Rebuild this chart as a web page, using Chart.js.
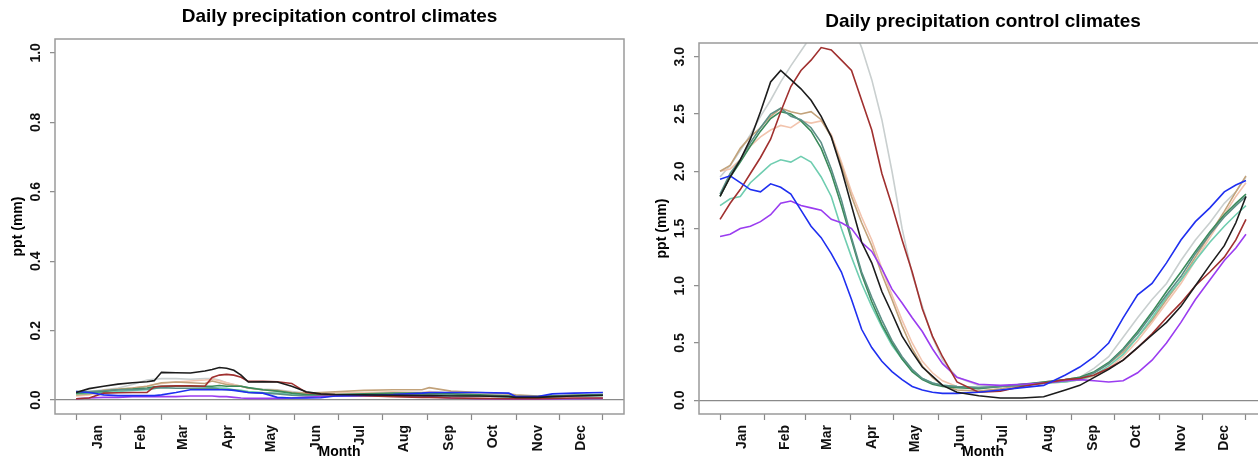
<!DOCTYPE html>
<html>
<head>
<meta charset="utf-8">
<title>Daily precipitation control climates</title>
<script src="https://cdn.jsdelivr.net/npm/chart.js@4.4.1/dist/chart.umd.min.js"></script>
<style>
  html, body { margin: 0; padding: 0; background: white; overflow: hidden; }
  body { width: 1258px; height: 459px; position: relative; }
  .panel { position: absolute; top: 0; }
  #leftPanel { left: 0; }
  #rightPanel { left: 630px; }
</style>
</head>
<body>
<div class="panel" id="leftPanel"><canvas id="chartLeft" width="640" height="459"></canvas></div>
<div class="panel" id="rightPanel"><canvas id="chartRight" width="660" height="459"></canvas></div>
<script>
'use strict';

const monthNames = ['Jan', 'Feb', 'Mar', 'Apr', 'May', 'Jun', 'Jul', 'Aug', 'Sep', 'Oct', 'Nov', 'Dec'];
const monthStarts = [1, 32, 60, 91, 121, 152, 182, 213, 244, 274, 305, 335, 365];
const monthMids = [16, 46, 75, 106, 136, 167, 197, 228, 259, 289, 320, 350];

const leftTicks = [0, 0.2, 0.4, 0.6, 0.8, 1.0];
const rightTicks = [0, 0.5, 1.0, 1.5, 2.0, 2.5, 3.0];

// day of year for the sampled values
const leftDays = [1, 10, 20, 30, 40, 50, 55, 60, 70, 80, 90, 95, 100, 105, 110, 115, 120, 130, 140, 150,
  160, 170, 180, 200, 220, 240, 245, 260, 280, 300, 305, 320, 330, 345, 365];
const rightDays = [1, 8, 15, 22, 29, 36, 43, 50, 57, 64, 71, 78, 85, 92, 99, 106, 113, 120, 127, 134,
  141, 148, 155, 165, 180, 195, 210, 225, 240, 250, 260, 270, 280, 290, 300, 310, 320, 330, 340, 350, 358, 365];

// left panel (mm/day)
const leftBlack = [.022, .033, .040, .046, .050, .053, .056, .080, .079, .078, .084, .088, .094, .092, .086, .072, .052, .053, .052, .040,
  .024, .018, .016, .015, .014, .013, .013, .012, .012, .010, .008, .008, .010, .012, .014];
const leftRed = [.004, .006, .020, .021, .022, .022, .038, .040, .041, .041, .040, .065, .072, .074, .072, .066, .054, .054, .053, .048,
  .022, .017, .015, .013, .010, .008, .008, .006, .005, .004, .004, .004, .005, .006, .006];
const leftGray = [.020, .025, .030, .035, .045, .058, .060, .062, .062, .060, .062, .062, .058, .050, .045, .040, .035, .032, .030, .025,
  .020, .018, .018, .020, .022, .022, .025, .020, .018, .015, .012, .010, .012, .014, .016];
const leftTan = [.015, .018, .028, .032, .035, .040, .045, .050, .052, .050, .048, .055, .050, .045, .042, .040, .035, .030, .028, .022,
  .020, .022, .024, .028, .030, .030, .036, .026, .022, .018, .015, .012, .012, .014, .015];
const leftSalmon = [.012, .015, .025, .030, .035, .040, .045, .048, .052, .055, .058, .060, .056, .050, .045, .040, .034, .030, .026, .022,
  .018, .018, .020, .022, .024, .022, .024, .020, .016, .012, .010, .010, .011, .012, .013];
const leftGreen = [.020, .022, .025, .030, .032, .035, .038, .040, .040, .040, .040, .040, .042, .040, .040, .040, .036, .030, .026, .020,
  .016, .015, .016, .018, .020, .020, .020, .018, .015, .012, .010, .010, .012, .014, .016];
const leftTeal = [.025, .025, .027, .030, .030, .032, .034, .036, .034, .034, .034, .035, .032, .030, .030, .026, .022, .020, .018, .014,
  .012, .012, .012, .014, .016, .016, .016, .014, .012, .010, .008, .008, .010, .012, .014];
const leftAqua = [.018, .020, .022, .025, .028, .030, .033, .038, .040, .040, .038, .036, .035, .034, .030, .028, .025, .022, .020, .016,
  .014, .012, .012, .013, .015, .015, .015, .014, .012, .010, .009, .009, .010, .012, .013];
const leftBlue = [.025, .022, .015, .013, .013, .013, .013, .015, .022, .030, .030, .030, .030, .030, .028, .025, .022, .020, .008, .006,
  .006, .007, .012, .014, .016, .020, .022, .022, .022, .020, .010, .010, .018, .020, .022];
const leftPurple = [.004, .006, .008, .008, .010, .010, .010, .010, .010, .012, .012, .012, .010, .010, .008, .006, .005, .005, .005, .006,
  .008, .010, .012, .012, .012, .012, .010, .006, .004, .003, .003, .003, .003, .004, .005];

// right panel (mm/day)
const rightBlack = [1.78, 1.95, 2.10, 2.28, 2.52, 2.78, 2.88, 2.80, 2.72, 2.62, 2.48, 2.30, 2.02, 1.70, 1.38, 1.20, 0.95, 0.76, 0.56, 0.42,
  0.29, 0.21, 0.13, 0.07, 0.04, 0.02, 0.02, 0.03, 0.09, 0.13, 0.20, 0.27, 0.35, 0.46, 0.57, 0.68, 0.82, 1.00, 1.18, 1.35, 1.55, 1.78];
const rightRed = [1.58, 1.72, 1.84, 1.98, 2.12, 2.28, 2.52, 2.74, 2.88, 2.97, 3.08, 3.06, 2.97, 2.88, 2.62, 2.36, 1.98, 1.70, 1.40, 1.12,
  0.80, 0.56, 0.38, 0.16, 0.07, 0.08, 0.12, 0.15, 0.18, 0.19, 0.22, 0.28, 0.35, 0.46, 0.58, 0.72, 0.85, 1.00, 1.12, 1.25, 1.40, 1.58];
const rightGray = [1.95, 2.05, 2.18, 2.32, 2.48, 2.62, 2.78, 2.92, 3.05, 3.18, 3.35, 3.45, 3.42, 3.30, 3.08, 2.80, 2.45, 2.00, 1.50, 1.10,
  0.82, 0.55, 0.35, 0.20, 0.13, 0.12, 0.13, 0.15, 0.17, 0.20, 0.28, 0.38, 0.55, 0.72, 0.88, 1.02, 1.22, 1.40, 1.55, 1.72, 1.82, 1.95];
const rightTan = [2.00, 2.05, 2.20, 2.30, 2.38, 2.48, 2.55, 2.52, 2.50, 2.52, 2.45, 2.30, 2.05, 1.78, 1.55, 1.35, 1.10, 0.88, 0.65, 0.45,
  0.30, 0.20, 0.13, 0.09, 0.08, 0.10, 0.13, 0.16, 0.18, 0.20, 0.24, 0.32, 0.42, 0.55, 0.70, 0.88, 1.05, 1.25, 1.45, 1.65, 1.82, 1.96];
const rightSalmon = [2.00, 2.02, 2.10, 2.22, 2.30, 2.36, 2.40, 2.38, 2.44, 2.42, 2.44, 2.32, 2.08, 1.82, 1.60, 1.40, 1.15, 0.92, 0.70, 0.50,
  0.34, 0.24, 0.17, 0.12, 0.10, 0.12, 0.14, 0.15, 0.16, 0.18, 0.21, 0.28, 0.38, 0.52, 0.68, 0.85, 1.02, 1.22, 1.42, 1.62, 1.78, 1.90];
const rightTeal = [1.80, 1.98, 2.10, 2.25, 2.38, 2.50, 2.55, 2.48, 2.45, 2.38, 2.25, 2.02, 1.75, 1.42, 1.12, 0.90, 0.70, 0.52, 0.38, 0.27,
  0.19, 0.15, 0.13, 0.12, 0.11, 0.12, 0.13, 0.15, 0.17, 0.19, 0.24, 0.32, 0.44, 0.58, 0.75, 0.92, 1.08, 1.28, 1.45, 1.60, 1.70, 1.78];
const rightGreen = [1.78, 1.95, 2.08, 2.22, 2.35, 2.46, 2.52, 2.50, 2.44, 2.35, 2.20, 1.98, 1.70, 1.40, 1.10, 0.86, 0.66, 0.50, 0.36, 0.25,
  0.18, 0.14, 0.12, 0.11, 0.10, 0.12, 0.14, 0.16, 0.18, 0.20, 0.25, 0.33, 0.45, 0.60, 0.77, 0.95, 1.12, 1.30, 1.47, 1.62, 1.72, 1.80];
const rightAqua = [1.70, 1.76, 1.78, 1.90, 1.98, 2.06, 2.10, 2.08, 2.13, 2.08, 1.95, 1.78, 1.50, 1.25, 1.02, 0.82, 0.64, 0.48, 0.36, 0.26,
  0.19, 0.15, 0.13, 0.12, 0.11, 0.12, 0.14, 0.15, 0.16, 0.18, 0.22, 0.30, 0.40, 0.55, 0.72, 0.90, 1.05, 1.22, 1.38, 1.52, 1.62, 1.70];
const rightBlue = [1.93, 1.96, 1.90, 1.84, 1.82, 1.89, 1.86, 1.80, 1.66, 1.52, 1.42, 1.28, 1.12, 0.88, 0.62, 0.46, 0.34, 0.25, 0.18, 0.12,
  0.09, 0.07, 0.06, 0.06, 0.07, 0.09, 0.11, 0.13, 0.22, 0.29, 0.38, 0.50, 0.72, 0.92, 1.02, 1.20, 1.40, 1.56, 1.68, 1.82, 1.88, 1.92];
const rightPurple = [1.43, 1.45, 1.50, 1.52, 1.56, 1.62, 1.72, 1.74, 1.70, 1.68, 1.66, 1.58, 1.55, 1.50, 1.38, 1.30, 1.15, 0.97, 0.85, 0.72,
  0.60, 0.45, 0.32, 0.20, 0.14, 0.13, 0.14, 0.15, 0.17, 0.18, 0.17, 0.16, 0.17, 0.24, 0.35, 0.50, 0.68, 0.88, 1.05, 1.22, 1.33, 1.45];

const colors = {
  black: '#1c1c1c', blue: '#1f2ff0', red: '#a0302f', purple: '#9a3cf0', teal: '#5b8f86',
  green: '#3a8a5a', aqua: '#6fcdb0', tan: '#c2a27a', salmon: '#f2c4ae', gray: '#c9cfcf'
};

const FONT = '"Liberation Sans", Arial, Helvetica, sans-serif';
Chart.defaults.font.family = FONT;
Chart.defaults.color = '#111';

function line(days, values, color) {
  return {
    data: values.map((v, i) => ({x: days[i], y: v})),
    borderColor: color,
    borderWidth: 1.6,
    pointRadius: 0,
    tension: 0,
    fill: false
  };
}

// R-style rotated tick labels on the y axis
const rotatedYLabels = {
  id: 'rotatedYLabels',
  afterDraw(chart, args, opts) {
    const scale = chart.scales.y;
    const ctx = chart.ctx;
    ctx.save();
    ctx.font = 'bold 14px ' + FONT;
    ctx.fillStyle = '#111';
    ctx.textAlign = 'center';
    ctx.textBaseline = 'middle';
    scale.ticks.forEach((tick) => {
      ctx.save();
      ctx.translate(opts.x, scale.getPixelForValue(tick.value));
      ctx.rotate(-Math.PI / 2);
      ctx.fillText(tick.value.toFixed(1), 0, 0);
      ctx.restore();
    });
    ctx.restore();
  }
};

const plotBox = {
  id: 'plotBox',
  afterDraw(chart) {
    const {ctx, chartArea: a} = chart;
    ctx.save();
    ctx.strokeStyle = '#9a9a9a';
    ctx.lineWidth = 1.5;
    ctx.strokeRect(a.left, a.top, a.right - a.left, a.bottom - a.top);
    ctx.restore();
  }
};

function makeChart(canvasId, p) {
  const xMin = 1 - 364 * 0.04;
  const xMax = 365 + 364 * 0.04;
  return new Chart(document.getElementById(canvasId), {
    type: 'line',
    data: {datasets: p.datasets},
    options: {
      responsive: false,
      animation: false,
      events: [],
      layout: {padding: {left: 0, right: p.padRight, top: 0, bottom: 0}},
      plugins: {
        legend: {display: false},
        tooltip: {enabled: false},
        title: {
          display: true,
          text: 'Daily precipitation control climates',
          fullSize: false,
          color: '#000',
          font: {size: 19, weight: 'bold'},
          padding: {top: p.titleTop, bottom: p.titleBottom}
        },
        rotatedYLabels: {x: p.yLabelX}
      },
      scales: {
        x: {
          type: 'linear',
          position: 'bottom',
          min: xMin,
          max: xMax,
          afterBuildTicks: (s) => { s.ticks = monthStarts.map((v) => ({value: v})); },
          ticks: {display: false},
          grid: {drawOnChartArea: false, drawTicks: true, tickLength: 6, tickColor: '#888', tickWidth: 1.2},
          border: {display: false},
          afterFit: (s) => { s.height = 6; }
        },
        month: {
          type: 'linear',
          position: 'bottom',
          min: xMin,
          max: xMax,
          afterBuildTicks: (s) => { s.ticks = monthMids.map((v) => ({value: v})); },
          ticks: {
            autoSkip: false,
            minRotation: 90,
            maxRotation: 90,
            padding: 5,
            color: '#111',
            font: {size: 14, weight: 'bold'},
            callback: (v, i) => monthNames[i]
          },
          grid: {display: false, drawTicks: false},
          border: {display: false},
          title: {
            display: true,
            text: 'Month',
            color: '#000',
            font: {size: 14, weight: 'bold', lineHeight: 1},
            padding: {top: 0, bottom: 0}
          },
          afterFit: (s) => { s.height = 39; }
        },
        y: {
          type: 'linear',
          min: p.yMin,
          max: p.yMax,
          afterBuildTicks: (s) => { s.ticks = p.yTicks.map((v) => ({value: v})); },
          ticks: {display: false},
          grid: {
            drawOnChartArea: true,
            drawTicks: true,
            tickLength: 5,
            tickColor: '#888',
            tickWidth: 1.2,
            lineWidth: 1.3,
            color: (c) => (c.tick && c.tick.value === 0 ? '#8a8a8a' : 'rgba(0,0,0,0)')
          },
          border: {display: false},
          title: {
            display: true,
            text: 'ppt (mm)',
            color: '#000',
            font: {size: 14, weight: 'bold'},
            padding: {top: p.yTitleTop, bottom: 0}
          },
          afterFit: (s) => { s.width = p.yWidth; }
        }
      }
    },
    plugins: [rotatedYLabels, plotBox]
  });
}

makeChart('chartLeft', {
  datasets: [
    line(leftDays, leftBlack, colors.black),
    line(leftDays, leftBlue, colors.blue),
    line(leftDays, leftRed, colors.red),
    line(leftDays, leftPurple, colors.purple),
    line(leftDays, leftTeal, colors.teal),
    line(leftDays, leftGreen, colors.green),
    line(leftDays, leftAqua, colors.aqua),
    line(leftDays, leftTan, colors.tan),
    line(leftDays, leftSalmon, colors.salmon),
    line(leftDays, leftGray, colors.gray)
  ],
  yMin: -0.04, yMax: 1.04, yTicks: leftTicks,
  padRight: 16, yWidth: 55, yLabelX: 36, yTitleTop: 9.6,
  titleTop: 5.6, titleBottom: 10.6
});

makeChart('chartRight', {
  datasets: [
    line(rightDays, rightBlack, colors.black),
    line(rightDays, rightBlue, colors.blue),
    line(rightDays, rightRed, colors.red),
    line(rightDays, rightPurple, colors.purple),
    line(rightDays, rightTeal, colors.teal),
    line(rightDays, rightGreen, colors.green),
    line(rightDays, rightAqua, colors.aqua),
    line(rightDays, rightTan, colors.tan),
    line(rightDays, rightSalmon, colors.salmon),
    line(rightDays, rightGray, colors.gray)
  ],
  yMin: -0.12, yMax: 3.12, yTicks: rightTicks,
  padRight: 23, yWidth: 69, yLabelX: 50, yTitleTop: 23.6,
  titleTop: 10.6, titleBottom: 9.6
});
</script>
</body>
</html>
